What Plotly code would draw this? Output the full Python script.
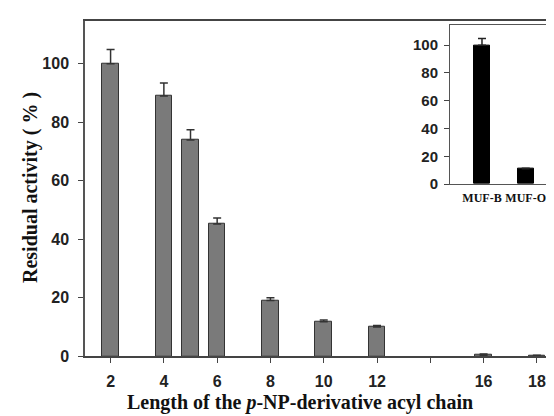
import plotly.graph_objects as go

# Main chart data
chain_length = [2, 4, 5, 6, 8, 10, 12, 16, 18]
activity = [100, 89, 73.9, 45.2, 19.1, 11.8, 10.0, 0.4, 0.15]
activity_err = [4.9, 4.4, 3.5, 2.1, 0.9, 0.6, 0.5, 0.4, 0.2]
x_tickvals = [2, 4, 6, 8, 10, 12, 14, 16, 18]
x_ticktext = ["2", "4", "6", "8", "10", "12", "", "16", "18"]
y_tickvals = [0, 20, 40, 60, 80, 100]

# Inset data
inset_labels = ["MUF-B", "MUF-O"]
inset_values = [100, 11]
inset_err = [4.9, 0.5]
inset_pos = [0, 1]

W, H = 554, 416
def fx(p):
    return p / W
def fy(p):
    return 1 - p / H

fig = go.Figure()

fig.add_trace(go.Bar(
    x=chain_length, y=activity, width=0.62,
    marker=dict(color="#7a7a7a", line=dict(color="#333333", width=1)),
    error_y=dict(type="data", array=activity_err, arrayminus=[0]*len(activity_err),
                 symmetric=False, color="#333333", thickness=1.5, width=4),
    xaxis="x", yaxis="y", showlegend=False,
))

fig.add_trace(go.Bar(
    x=inset_pos, y=inset_values, width=0.36,
    marker=dict(color="#000000", line=dict(color="#000000", width=1)),
    error_y=dict(type="data", array=inset_err, arrayminus=[0, 0],
                 symmetric=False, color="#222222", thickness=1.5, width=4),
    xaxis="x2", yaxis="y2", showlegend=False,
))

tickfont_main = dict(family="Liberation Sans", size=16, color="#222222", weight="bold")
tickfont_inset = dict(family="Liberation Sans", size=15, color="#222222", weight="bold")

fig.update_layout(
    width=W, height=H,
    margin=dict(l=0, r=0, t=0, b=0),
    paper_bgcolor="white", plot_bgcolor="white",
    bargap=0,
    xaxis=dict(
        domain=[fx(77), fx(551)], range=[1.04, 18.83],
        tickvals=x_tickvals, ticktext=x_ticktext,
        ticks="outside", ticklen=5, tickcolor="#444444", tickwidth=1,
        showline=True, linecolor="#444444", linewidth=1.5, mirror=True,
        showgrid=False, zeroline=False, tickfont=tickfont_main,
        ticklabelstandoff=5, anchor="y",
    ),
    yaxis=dict(
        domain=[fy(356), fy(13)], range=[0, 114.7],
        tickvals=y_tickvals,
        ticks="outside", ticklen=5, tickcolor="#444444", tickwidth=1,
        showline=True, linecolor="#555555", linewidth=1.5, mirror=True,
        showgrid=False, zeroline=False, tickfont=tickfont_main,
        ticklabelstandoff=6, anchor="x",
    ),
    xaxis2=dict(
        domain=[fx(442), fx(551)], range=[-0.732, 1.762],
        tickvals=inset_pos, ticktext=inset_labels, tickangle=0,
        ticks="", showline=True, linecolor="#555555", linewidth=1, mirror=True,
        showgrid=False, zeroline=False,
        tickfont=dict(family="Liberation Serif", size=12, color="#111111", weight="bold"),
        ticklabelstandoff=2, anchor="y2",
    ),
    yaxis2=dict(
        domain=[fy(180), fy(17)], range=[0, 114.8],
        tickvals=y_tickvals,
        ticks="outside", ticklen=5, tickcolor="#444444", tickwidth=1,
        showline=True, linecolor="#555555", linewidth=1, mirror=True,
        showgrid=False, zeroline=False, tickfont=tickfont_inset,
        ticklabelstandoff=3, anchor="x2",
    ),
    annotations=[
        dict(text="Length of the <i>p</i>-NP-derivative acyl chain",
             x=fx(292), y=fy(403), xref="paper", yref="paper",
             xanchor="center", yanchor="middle", showarrow=False,
             font=dict(family="Liberation Serif", size=20, color="#111111", weight="bold")),
        dict(text="Residual activity ( % )",
             x=fx(22), y=fy(184), xref="paper", yref="paper",
             xanchor="center", yanchor="middle", showarrow=False, textangle=-90,
             font=dict(family="Liberation Serif", size=20, color="#111111", weight="bold")),
    ],
)

fig.write_html("out.html")
